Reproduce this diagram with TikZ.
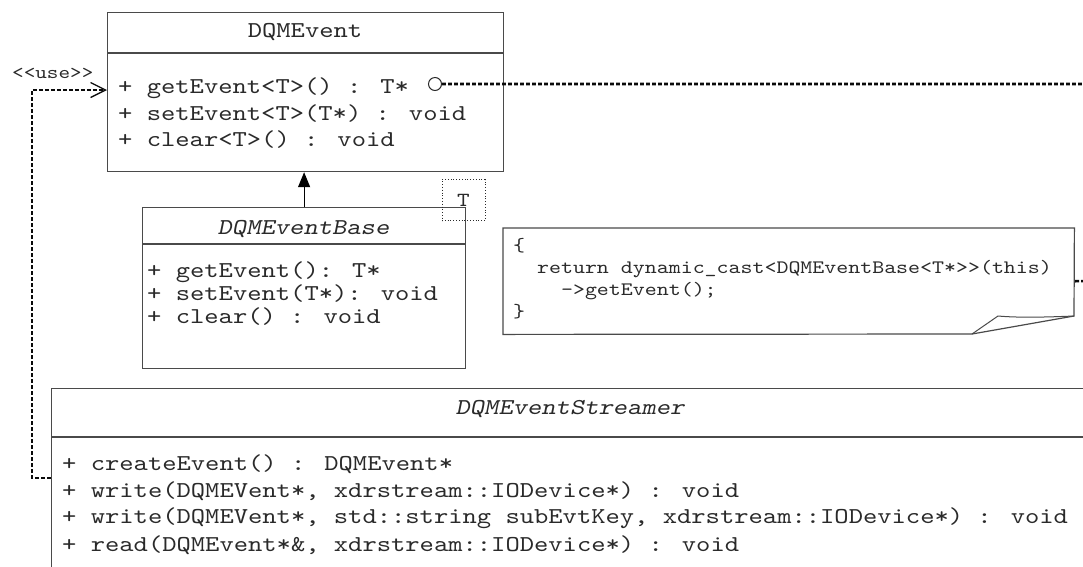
\documentclass[tikz,border=0pt]{standalone}
\usepackage{fontspec}
\newfontfamily\courfont{lmmono10-regular}[Extension=.otf, FakeStretch=1.2, ItalicFont=lmmonoslant10-regular]
\usetikzlibrary{arrows.meta}
\definecolor{txtgray}{HTML}{2A2A2A}
\definecolor{linegray}{HTML}{4A4A4A}
\definecolor{dashcol}{HTML}{0A0A0A}
\begin{document}
\begin{tikzpicture}[x=1pt,y=-1pt,
  umlbox/.style={draw=linegray, line width=1.2pt, anchor=north west, inner sep=0pt},
  divider/.style={draw=linegray, line width=1.1pt},
  mem/.style={font=\courfont\fontsize{22.7}{22.7}\selectfont, text=txtgray, inner sep=0pt, anchor=base west, text height=12pt, text depth=3pt},
  ttl/.style={font=\courfont\fontsize{22.7}{22.7}\selectfont, text=txtgray, inner sep=0pt, anchor=base},
  ittl/.style={font=\courfont\itshape\fontsize{22.7}{22.7}\selectfont, text=txtgray, inner sep=0pt, anchor=base},
  notetext/.style={font=\courfont\fontsize{19}{19}\selectfont, text=txtgray, inner sep=0pt, anchor=base west, text height=10pt, text depth=3pt},
  dep/.style={draw=dashcol, line width=2.6pt, dash pattern=on 3.8pt off 2.2pt},
]
\useasboundingbox (0,0) rectangle (1083,566);
\begin{scope}
\clip (0,0) rectangle (1083,566);

% DQMEvent
\node[umlbox, minimum width=396pt, minimum height=159pt] (ev) at (107,12) {};
\draw[divider] (107,53) -- (503,53);
\node[ttl] (evt) at (305,37) {DQMEvent};
\node[mem] (ev1) at (118,93) {+ getEvent<T>() : T*};
\node[mem] (ev2) at (118,120) {+ setEvent<T>(T*) : void};
\node[mem] (ev3) at (118,146) {+ clear<T>() : void};
\node[circle, draw=txtgray, line width=1pt, minimum size=13pt, inner sep=0pt] (circ) at (435,84) {};

% DQMEventBase
\node[umlbox, minimum width=323pt, minimum height=161pt] (base) at (142,207) {};
\draw[divider] (142,244) -- (465,244);
\node[ittl] (bt) at (303.5,234) {DQMEventBase};
\node[mem] (b1) at (147,277) {+ getEvent(): T*};
\node[mem] (b2) at (147,300) {+ setEvent(T*): void};
\node[mem] (b3) at (147,323) {+ clear() : void};
\node[draw=txtgray, line width=0.8pt, dotted, minimum width=43pt, minimum height=41pt, inner sep=0pt,
      font=\courfont\fontsize{20}{20}\selectfont, text=txtgray] (tp) at (463.5,200) {T};

% navigation arrow
\draw[draw=black, line width=1.2pt, -{Triangle[length=15pt,width=12pt]}] (base.north) -- (base.north |- ev.south);

% note
\node[minimum width=571pt, minimum height=106pt, inner sep=0pt, anchor=north west] (note) at (503,228) {};
\draw[linegray, line width=1.2pt] (note.north west) -- (note.north east) -- (1074,316) -- (972,334) -- (note.south west) -- cycle;
\draw[linegray, line width=1pt] (972,334) -- (998,316) .. controls (1020,318) and (1050,317) .. (1074,316);
\node[notetext] (n1) at (513,251) {\{};
\node[notetext] (n2) at (513,273) {\ \ return dynamic\_cast<DQMEventBase<T*>>(this)};
\node[notetext] (n3) at (513,295) {\ \ \ \ ->getEvent();};
\node[notetext] (n4) at (513,317) {\}};

% DQMEventStreamer
\node[umlbox, minimum width=1038pt, minimum height=230pt] (st) at (51,388) {};
\draw[divider] (51,437) -- (1089,437);
\node[ittl] (stt) at (570,414) {DQMEventStreamer};
\node[mem] (s1) at (62,470) {+ createEvent() : DQMEvent*};
\node[mem] (s2) at (62,497) {+ write(DQMEVent*, xdrstream::IODevice*) : void};
\node[mem] (s3) at (62,523) {+ write(DQMEVent*, std::string subEvtKey, xdrstream::IODevice*) : void};
\node[mem] (s4) at (62,551) {+ read(DQMEvent*\&, xdrstream::IODevice*) : void};

% <<use>> dependency
\node[font=\courfont\fontsize{18.4}{18.4}\selectfont, text=txtgray, inner sep=0pt, anchor=base west] (use) at (12,78) {<<use>>};
\draw[dep, -{Straight Barb[length=15pt,width=15pt,line width=1.3pt]}] (st.west |- 0,478) -- (32,478) -- (32,90) -- (ev.west |- 0,90);

% circle to note connector (runs off the right edge)
\draw[dep] (circ.east) -- (1100,84) -- (1100,281) -- (note.east);
\end{scope}
\end{tikzpicture}
\end{document}
